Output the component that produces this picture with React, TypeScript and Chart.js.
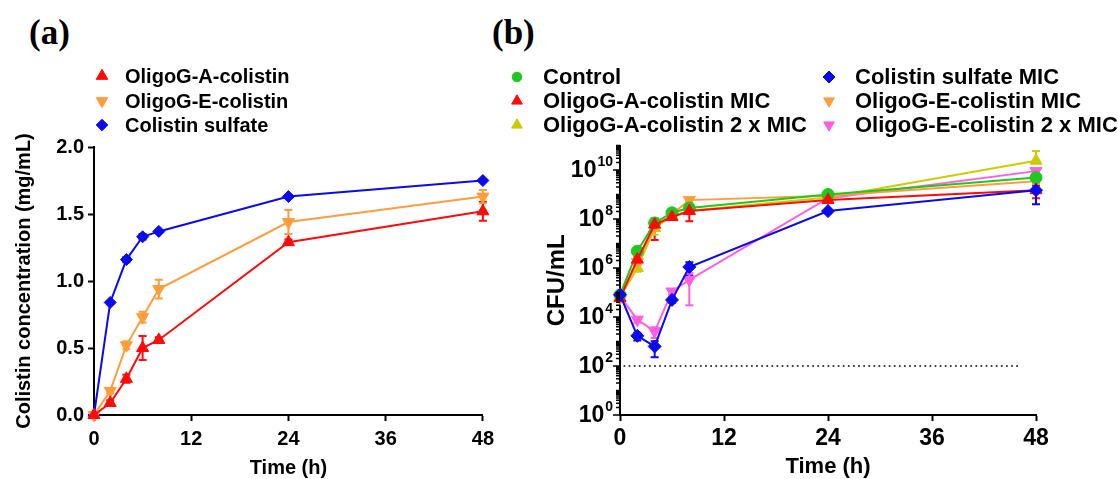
import React, { useEffect, useRef } from 'react';
import { Chart, registerables } from 'chart.js';
import { drawPoint } from 'chart.js/helpers';

Chart.register(...registerables);

// ---------------- data ----------------
const timesH = [0, 2, 4, 6, 8, 24, 48];
const timeTicks = [0, 12, 24, 36, 48];

// panel (a): colistin release (mg/mL)
const concTicks = [0, 0.5, 1.0, 1.5, 2.0];
const oligoGA = [0, 0.09, 0.27, 0.5, 0.56, 1.29, 1.52];
const oligoGAErr = [0, 0.02, 0.03, 0.09, 0.02, 0.02, 0.07];
const oligoGE = [0, 0.18, 0.52, 0.73, 0.94, 1.44, 1.63];
const oligoGEErr = [0, 0.02, 0.03, 0.04, 0.07, 0.09, 0.05];
const colSulfate = [0, 0.84, 1.16, 1.33, 1.37, 1.63, 1.75];
const colSulfateErr = [0, 0.01, 0.02, 0.02, 0.01, 0.01, 0.01];

// panel (b): time-kill (CFU/mL)
const cfuExponentTicks = [0, 2, 4, 6, 8, 10];
const detectionLimit = 100;
const detectionLimitSpan = [0.5, 46.3];
const controlCfu = [8e4, 4.8e6, 6.9e7, 1.8e8, 2.8e8, 1.0e9, 4.9e9];
const controlSd = [1e4, 1e6, 1.5e7, 4e7, 6e7, 1.5e8, 1.5e9];
const aMicCfu = [5.9e4, 2.2e6, 5.9e7, 1.2e8, 2.1e8, 6.0e8, 1.5e9];
const aMicSd = [1e4, 8e5, 4.5e7, 3e7, 1.3e8, 1e8, 8e8];
const a2MicCfu = [6.3e4, 1.0e6, 4.3e7, 1.3e8, 2.2e8, 7.6e8, 2.4e10];
const a2MicSd = [1e4, 3e5, 2e7, 3e7, 5e7, 1.5e8, 3.6e10];
const sulfateMicCfu = [8.1e4, 1.7e3, 6.3e2, 5.0e4, 1.1e6, 2.1e8, 1.5e9];
const sulfateMicSd = [1e4, 6e2, 4e2, 1.2e4, 6e5, 4e7, 1.1e9];
const eMicCfu = [5.9e4, 1.8e6, 5.0e7, 1.6e8, 5.9e8, 8.9e8, 3.5e9];
const eMicSd = [1e4, 4e5, 1.5e7, 3e7, 1e8, 1.5e8, 8e8];
const e2MicCfu = [7.1e4, 7.8e3, 2.6e3, 1.1e5, 3.3e5, 7.1e8, 9.0e9];
const e2MicSd = [1e4, 2e3, 1.2e3, 3e4, 3e5, 1.5e8, 2e9];

// ---------------- styling ----------------
const FAMILY = '"Liberation Sans", Arial, Helvetica, sans-serif';
const RED = '#ff0a0a';
const ORANGE = '#ff9d3c';
const BLUE = '#0a0af0';
const GREEN = '#1ec81e';
const YELLOW = '#cccc00';
const PINK = '#ff5ee0';

Chart.defaults.color = '#000';
Chart.defaults.font.family = FAMILY;

const pts = (ys: number[]) => timesH.map((t, i) => ({ x: t, y: ys[i] }));

function series(label: string, ys: number[], errs: number[], color: string, style: string, radius: number, rotation: number, order: number) {
  return {
    label,
    data: pts(ys),
    errors: errs,
    borderColor: color,
    backgroundColor: color,
    pointBackgroundColor: color,
    pointBorderColor: color,
    pointStyle: style,
    pointRadius: radius,
    pointRotation: rotation,
    pointBorderWidth: 1,
    borderWidth: 2,
    tension: 0,
    clip: false,
    order,
  };
}

// error bars drawn behind the lines / markers
const errorBarPlugin = {
  id: 'errorBars',
  beforeDatasetsDraw(chart: any) {
    const { ctx } = chart;
    const xs = chart.scales.x;
    const ys = chart.scales.y;
    const isLog = ys.type === 'logarithmic';
    const cap = 4;
    chart.data.datasets.forEach((ds: any) => {
      if (!ds.errors) return;
      ctx.save();
      ctx.strokeStyle = ds.borderColor;
      ctx.lineWidth = 2;
      ds.data.forEach((p: any, j: number) => {
        const e = ds.errors[j];
        if (!e) return;
        const x = xs.getPixelForValue(p.x);
        const yMid = ys.getPixelForValue(p.y);
        const yTop = ys.getPixelForValue(p.y + e);
        ctx.beginPath();
        ctx.moveTo(x, yMid);
        ctx.lineTo(x, yTop);
        ctx.moveTo(x - cap, yTop);
        ctx.lineTo(x + cap, yTop);
        const lo = p.y - e;
        if (!isLog || lo > 0) {
          const yBot = ys.getPixelForValue(lo);
          ctx.moveTo(x, yMid);
          ctx.lineTo(x, yBot);
          ctx.moveTo(x - cap, yBot);
          ctx.lineTo(x + cap, yBot);
        }
        ctx.stroke();
      });
      ctx.restore();
    });
  },
};

type Slot = { index: number; x: number; y: number };

function makeLegend(slots: Slot[], fontSize: number, gap: number, radii: Record<string, number>) {
  return {
    id: 'sideLegend',
    afterDraw(chart: any) {
      const { ctx } = chart;
      ctx.save();
      ctx.font = `bold ${fontSize}px ${FAMILY}`;
      ctx.textBaseline = 'middle';
      ctx.textAlign = 'left';
      slots.forEach((s) => {
        const ds = chart.data.datasets[s.index];
        ctx.fillStyle = ds.backgroundColor;
        ctx.strokeStyle = ds.borderColor;
        ctx.lineWidth = 1;
        drawPoint(ctx, { pointStyle: ds.pointStyle, rotation: ds.pointRotation || 0, radius: radii[ds.pointStyle], borderWidth: 1 } as any, s.x, s.y);
        ctx.fillStyle = '#000';
        ctx.fillText(ds.label, s.x + gap, s.y + 1);
      });
      ctx.restore();
    },
  };
}

// minor ticks and power-of-ten labels for the log axis
const logAxisDecor = {
  id: 'logAxisDecor',
  afterDraw(chart: any) {
    const { ctx } = chart;
    const s = chart.scales.y;
    const x0 = chart.chartArea.left;
    const eMin = Math.round(Math.log10(s.min));
    const eMax = Math.round(Math.log10(s.max));
    ctx.save();
    ctx.strokeStyle = '#000';
    ctx.lineWidth = 1.5;
    ctx.beginPath();
    for (let e = eMin; e <= eMax; e++) {
      for (let k = 1; k <= 9; k++) {
        const v = k * Math.pow(10, e);
        if (v > s.max * 1.0001) break;
        const y = s.getPixelForValue(v);
        const len = k === 1 && cfuExponentTicks.includes(e) ? 7 : 4;
        ctx.moveTo(x0 - len, y);
        ctx.lineTo(x0, y);
      }
    }
    ctx.stroke();

    ctx.fillStyle = '#000';
    ctx.textAlign = 'right';
    ctx.textBaseline = 'middle';
    const xRight = x0 - 7;
    cfuExponentTicks.forEach((e) => {
      const y = s.getPixelForValue(Math.pow(10, e));
      const exp = String(e);
      ctx.font = `bold 14px ${FAMILY}`;
      const w = ctx.measureText(exp).width;
      ctx.fillText(exp, xRight, y - 8);
      ctx.font = `bold 23px ${FAMILY}`;
      ctx.fillText('10', xRight - w - 1, y + 1);
    });
    ctx.restore();
  },
};

function axisCommon(size: number) {
  return {
    grid: { drawOnChartArea: false, drawTicks: true, tickLength: 6, tickColor: '#000', tickWidth: 2 },
    border: { display: true, color: '#000', width: 2 },
    ticks: { font: { size, weight: 'bold' as const }, color: '#000', autoSkip: false, maxRotation: 0 },
  };
}

function configA(): any {
  const datasets = [
    series('OligoG-A-colistin', oligoGA, oligoGAErr, RED, 'triangle', 7, 0, 0),
    series('OligoG-E-colistin', oligoGE, oligoGEErr, ORANGE, 'triangle', 7, 180, 1),
    series('Colistin sulfate', colSulfate, colSulfateErr, BLUE, 'rectRot', 6, 0, 2),
  ];
  const c = axisCommon(20);
  return {
    type: 'line',
    data: { datasets },
    options: {
      animation: false,
      responsive: false,
      layout: { padding: { left: 0, top: 147, right: 14, bottom: 0 } },
      plugins: { legend: { display: false }, tooltip: { enabled: false } },
      scales: {
        x: {
          type: 'linear',
          min: 0,
          max: 48,
          afterBuildTicks: (s: any) => { s.ticks = timeTicks.map((v) => ({ value: v })); },
          afterFit: (s: any) => { s.height = 64; },
          grid: c.grid,
          border: c.border,
          ticks: { ...c.ticks, padding: 6, callback: (v: any) => String(v) },
          title: { display: true, text: 'Time (h)', color: '#000', font: { size: 20, weight: 'bold', lineHeight: 1.1 }, padding: 0 },
        },
        y: {
          type: 'linear',
          min: 0,
          max: 2,
          afterBuildTicks: (s: any) => { s.ticks = concTicks.map((v) => ({ value: v })); },
          afterFit: (s: any) => { s.width = 94; },
          grid: c.grid,
          border: c.border,
          ticks: { ...c.ticks, padding: 4, callback: (v: any) => Number(v).toFixed(1) },
          title: { display: true, text: 'Colistin concentration (mg/mL)', color: '#000', font: { size: 20, weight: 'bold', lineHeight: 1.2 }, padding: { top: 12, bottom: 0 } },
        },
      },
    },
    plugins: [
      errorBarPlugin,
      makeLegend(
        [
          { index: 0, x: 102, y: 76 },
          { index: 1, x: 102, y: 101 },
          { index: 2, x: 102, y: 125 },
        ],
        20,
        23,
        { triangle: 6.7, rectRot: 5.8, circle: 5 }
      ),
    ],
  };
}

function configB(): any {
  const datasets: any[] = [
    series('Control', controlCfu, controlSd, GREEN, 'circle', 6, 0, 2),
    series('OligoG-A-colistin MIC', aMicCfu, aMicSd, RED, 'triangle', 7, 0, 1),
    series('OligoG-A-colistin 2 x MIC', a2MicCfu, a2MicSd, YELLOW, 'triangle', 7, 0, 4),
    series('Colistin sulfate MIC', sulfateMicCfu, sulfateMicSd, BLUE, 'rectRot', 6.5, 0, 0),
    series('OligoG-E-colistin MIC', eMicCfu, eMicSd, ORANGE, 'triangle', 7, 180, 3),
    series('OligoG-E-colistin 2 x MIC', e2MicCfu, e2MicSd, PINK, 'triangle', 7, 180, 5),
    {
      label: 'Limit of detection',
      data: detectionLimitSpan.map((t) => ({ x: t, y: detectionLimit })),
      borderColor: '#333',
      borderWidth: 2,
      borderDash: [0.1, 5],
      borderCapStyle: 'round',
      pointRadius: 0,
      order: 10,
    },
  ];
  const c = axisCommon(23);
  return {
    type: 'line',
    data: { datasets },
    options: {
      animation: false,
      responsive: false,
      layout: { padding: { left: 0, top: 145.5, right: 82, bottom: 0 } },
      plugins: { legend: { display: false }, tooltip: { enabled: false } },
      scales: {
        x: {
          type: 'linear',
          min: 0,
          max: 48,
          afterBuildTicks: (s: any) => { s.ticks = timeTicks.map((v) => ({ value: v })); },
          afterFit: (s: any) => { s.height = 64; },
          grid: c.grid,
          border: c.border,
          ticks: { ...c.ticks, padding: 4, callback: (v: any) => String(v) },
          title: { display: true, text: 'Time (h)', color: '#000', font: { size: 22, weight: 'bold', lineHeight: 1.1 }, padding: 0 },
        },
        y: {
          type: 'logarithmic',
          min: 1,
          max: 1e11,
          afterBuildTicks: (s: any) => { s.ticks = cfuExponentTicks.map((e) => ({ value: Math.pow(10, e), major: true })); },
          afterFit: (s: any) => { s.width = 120; },
          grid: { drawOnChartArea: false, drawTicks: false },
          border: c.border,
          ticks: { display: false },
          title: { display: true, text: 'CFU/mL', color: '#000', font: { size: 24, weight: 'bold', lineHeight: 1.2 }, padding: { top: 43, bottom: 0 } },
        },
      },
    },
    plugins: [
      errorBarPlugin,
      logAxisDecor,
      makeLegend(
        [
          { index: 0, x: 17, y: 77 },
          { index: 1, x: 17, y: 101 },
          { index: 2, x: 17, y: 125 },
          { index: 3, x: 329, y: 77 },
          { index: 4, x: 329, y: 101 },
          { index: 5, x: 329, y: 125 },
        ],
        22,
        26,
        { triangle: 6.2, rectRot: 6, circle: 4.8 }
      ),
    ],
  };
}

const panelLabel: React.CSSProperties = {
  position: 'absolute',
  top: 15,
  fontFamily: '"Liberation Serif", "Times New Roman", serif',
  fontWeight: 'bold',
  fontSize: 35,
  lineHeight: '1',
  color: '#000',
};

export default function App() {
  const refA = useRef<HTMLCanvasElement>(null);
  const refB = useRef<HTMLCanvasElement>(null);

  useEffect(() => {
    const a = new Chart(refA.current as HTMLCanvasElement, configA());
    const b = new Chart(refB.current as HTMLCanvasElement, configB());
    return () => {
      a.destroy();
      b.destroy();
    };
  }, []);

  return (
    <div style={{ position: 'absolute', left: 0, top: 0, width: 1118, height: 479, background: '#fff', overflow: 'hidden' }}>
      <div style={{ ...panelLabel, left: 29 }}>(a)</div>
      <div style={{ ...panelLabel, left: 492 }}>(b)</div>
      <canvas ref={refA} width={500} height={479} style={{ position: 'absolute', left: 0, top: 0, width: 500, height: 479 }} />
      <canvas ref={refB} width={618} height={479} style={{ position: 'absolute', left: 500, top: 0, width: 618, height: 479 }} />
    </div>
  );
}
